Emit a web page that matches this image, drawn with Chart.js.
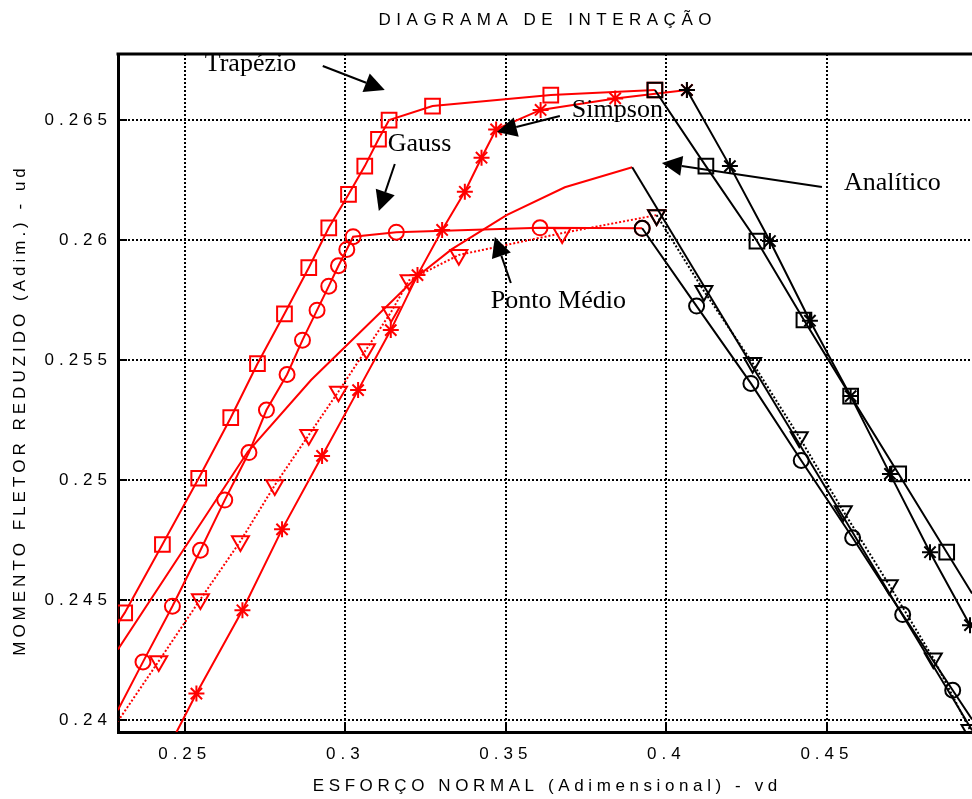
<!DOCTYPE html>
<html lang="pt">
<head>
<meta charset="utf-8">
<title>Diagrama de interação</title>
<script src="https://cdn.jsdelivr.net/npm/chart.js"></script>
<style>
  html, body { margin: 0; padding: 0; background: #fff; overflow: hidden; }
  #wrap { width: 972px; height: 799px; position: relative; }
  canvas { display: block; }
</style>
</head>
<body>
<div id="wrap"><canvas id="chart"></canvas></div>
<script>
// limites dos eixos (o lado direito está cortado)
const X_MIN = 0.22922, X_MAX = 0.49517;
const Y_MIN = 0.23951, Y_MAX = 0.26775;
const xTicks = [0.25, 0.3, 0.35, 0.4, 0.45];
const yTicks = [0.24, 0.245, 0.25, 0.255, 0.26, 0.265];

// Trapézio (quadrados): ramo vermelho e ramo preto
const trapN  = [0.2292, 0.2313, 0.24305, 0.25436, 0.26433, 0.27265, 0.28106, 0.28863, 0.29486, 0.3010, 0.30607, 0.31034, 0.31364, 0.32717, 0.3640, 0.39642];
const trapM  = [0.24404, 0.24447, 0.24732, 0.25008, 0.2526, 0.25485, 0.25693, 0.25885, 0.26051, 0.2619, 0.26308, 0.2642, 0.265, 0.26558, 0.26604, 0.26625];
const trapN2 = [0.39642, 0.4123, 0.4282, 0.44283, 0.45738, 0.47234, 0.48729, 0.4952];
const trapM2 = [0.26625, 0.26308, 0.25996, 0.25667, 0.2535, 0.25026, 0.247, 0.24528];

// Simpson (asteriscos)
const simpN  = [0.24741, 0.25364, 0.26797, 0.28031, 0.29277, 0.30399, 0.31417, 0.32249, 0.33016, 0.33723, 0.34243, 0.34698, 0.36083, 0.38405, 0.40639];
const simpM  = [0.2395, 0.24111, 0.24458, 0.24795, 0.25101, 0.25375, 0.25625, 0.25854, 0.26042, 0.26201, 0.26343, 0.26461, 0.26542, 0.2659, 0.26625];
const simpN2 = [0.40639, 0.41978, 0.43224, 0.4447, 0.45738, 0.46963, 0.48209, 0.49455];
const simpM2 = [0.26625, 0.26308, 0.25996, 0.25664, 0.2535, 0.25026, 0.247, 0.24396];

// Gauss (círculos)
const gaussN  = [0.2292, 0.2370, 0.24617, 0.25489, 0.26246, 0.27, 0.27545, 0.28187, 0.28667, 0.29121, 0.29486, 0.29788, 0.30047, 0.30243, 0.31589, 0.36064, 0.39246];
const gaussM  = [0.24042, 0.24243, 0.24475, 0.24708, 0.24917, 0.25115, 0.25292, 0.2544, 0.25583, 0.25708, 0.25808, 0.25893, 0.25961, 0.26014, 0.26033, 0.26051, 0.26049];
const gaussN2 = [0.39246, 0.4094, 0.42632, 0.44199, 0.458, 0.47358, 0.48916, 0.4952];
const gaussM2 = [0.26049, 0.25725, 0.25403, 0.25082, 0.2476, 0.2444, 0.24125, 0.24003];

// Ponto Médio (triângulos, pontilhado)
const pmN  = [0.2292, 0.2419, 0.25489, 0.26735, 0.27804, 0.28863, 0.29788, 0.3066, 0.31427, 0.31988, 0.33536, 0.36754, 0.39695];
const pmM  = [0.23996, 0.24246, 0.24504, 0.24746, 0.24979, 0.25188, 0.25369, 0.25546, 0.257, 0.25833, 0.25938, 0.26029, 0.26104];
const pmN2 = [0.39695, 0.41168, 0.42685, 0.44137, 0.45508, 0.4694, 0.48312, 0.49455];
const pmM2 = [0.26104, 0.25788, 0.25488, 0.25179, 0.24871, 0.24563, 0.24258, 0.2396];

// Analítico (linha simples)
const anaN  = [0.2292, 0.26963, 0.28935, 0.32259, 0.33308, 0.35022, 0.36838, 0.38935];
const anaM  = [0.24295, 0.25118, 0.25417, 0.2585, 0.25961, 0.26104, 0.2622, 0.26303];
const anaN2 = [0.38935, 0.4952];
const anaM2 = [0.26303, 0.23958];

// rótulos com seta: texto, posição do texto, início e ponta da seta
const notas = [
  { txt: 'Trapézio',    tx: 0.25623, ty: 0.26705, x1: 0.29299, y1: 0.26725, x2: 0.3123,  y2: 0.26625 },
  { txt: 'Gauss',       tx: 0.31324, ty: 0.26372, x1: 0.31542, y1: 0.26317, x2: 0.31044, y2: 0.26121 },
  { txt: 'Simpson',     tx: 0.37056, ty: 0.26511, x1: 0.36682, y1: 0.26517, x2: 0.3472,  y2: 0.2645 },
  { txt: 'Analítico',   tx: 0.4553,  ty: 0.26208, x1: 0.44844, y1: 0.26221, x2: 0.3986,  y2: 0.26321 },
  { txt: 'Ponto Médio', tx: 0.34533, ty: 0.25715, x1: 0.35156, y1: 0.25821, x2: 0.34657, y2: 0.26013 }
];

const RED = '#ff0000', BLACK = '#000000';
const SANS = '"Liberation Sans", Arial, sans-serif';

function pts(xs, ys) { return xs.map((x, i) => ({ x: x, y: ys[i] })); }
const naBorda = v => v.x <= X_MIN || v.x >= X_MAX || v.y <= Y_MIN;

function serie(xs, ys, cor, estilo, raio, tracejado) {
  return {
    data: pts(xs, ys),
    showLine: true,
    borderColor: cor,
    borderWidth: 2,
    borderDash: tracejado ? [2, 2] : [],
    tension: 0,
    pointStyle: estilo || 'circle',
    pointRotation: estilo === 'triangle' ? 180 : 0,
    pointRadius: ctx => (raio && ctx.raw && !naBorda(ctx.raw)) ? raio : 0,
    pointBorderColor: cor,
    pointBackgroundColor: 'rgba(0,0,0,0)',
    pointBorderWidth: 2,
    order: cor === BLACK ? 0 : 1
  };
}

const datasets = [
  serie(anaN, anaM, RED, false, 0),
  serie(pmN, pmM, RED, 'triangle', 9.8, true),
  serie(gaussN, gaussM, RED, 'circle', 7.5),
  serie(simpN, simpM, RED, 'star', 8),
  serie(trapN, trapM, RED, 'rect', 10.4),
  serie(anaN2, anaM2, BLACK, false, 0),
  serie(pmN2, pmM2, BLACK, 'triangle', 9.8, true),
  serie(gaussN2, gaussM2, BLACK, 'circle', 7.5),
  serie(simpN2, simpM2, BLACK, 'star', 8),
  serie(trapN2, trapM2, BLACK, 'rect', 10.4)
];

function textoEspacado(ctx, txt, x, y, esp) {
  // desenha centrado com espaçamento entre letras
  let w = 0;
  const larg = [];
  for (const ch of txt) { const l = ctx.measureText(ch).width; larg.push(l); w += l; }
  w += esp * (larg.length - 1);
  let cx = x - w / 2;
  let i = 0;
  ctx.textAlign = 'left';
  for (const ch of txt) { ctx.fillText(ch, cx, y); cx += larg[i++] + esp; }
}

const moldura = {
  id: 'moldura',
  beforeDraw(chart) {
    chart.ctx.letterSpacing = '5px';
  },
  afterDraw(chart) {
    const { ctx, chartArea: a, scales: { x, y } } = chart;
    ctx.save();
    ctx.letterSpacing = '0px';
    ctx.strokeStyle = BLACK;
    ctx.fillStyle = BLACK;
    // borda superior
    ctx.lineWidth = 3;
    ctx.beginPath();
    ctx.moveTo(a.left - 1.5, a.top);
    ctx.lineTo(a.right, a.top);
    ctx.stroke();
    // marcas internas
    ctx.lineWidth = 2;
    ctx.beginPath();
    yTicks.forEach(v => { const py = Math.round(y.getPixelForValue(v)); ctx.moveTo(a.left, py); ctx.lineTo(a.left + 9, py); });
    xTicks.forEach(v => { const px = Math.round(x.getPixelForValue(v)); ctx.moveTo(px, a.bottom); ctx.lineTo(px, a.bottom - 10); });
    ctx.stroke();

    // títulos
    ctx.font = '17px ' + SANS;
    ctx.textBaseline = 'middle';
    const cx = (a.left + a.right) / 2;
    textoEspacado(ctx, 'DIAGRAMA DE INTERAÇÃO', cx, 20, 5.5);
    textoEspacado(ctx, 'ESFORÇO NORMAL (Adimensional) - vd', cx, 786, 4.6);
    ctx.save();
    ctx.translate(20, (a.top + a.bottom) / 2 + 19);
    ctx.rotate(-Math.PI / 2);
    textoEspacado(ctx, 'MOMENTO FLETOR REDUZIDO (Adim.) - ud', 0, 0, 4);
    ctx.restore();

    // setas e rótulos dos métodos
    ctx.font = '26px "Liberation Serif", "Times New Roman", serif';
    ctx.textAlign = 'left';
    ctx.textBaseline = 'alphabetic';
    notas.forEach(n => {
      ctx.fillText(n.txt, x.getPixelForValue(n.tx), y.getPixelForValue(n.ty));
      const x1 = x.getPixelForValue(n.x1), y1 = y.getPixelForValue(n.y1);
      const x2 = x.getPixelForValue(n.x2), y2 = y.getPixelForValue(n.y2);
      const ang = Math.atan2(y2 - y1, x2 - x1);
      const L = 20, W = 10;
      const bx = x2 - L * Math.cos(ang), by = y2 - L * Math.sin(ang);
      ctx.lineWidth = 2;
      ctx.beginPath();
      ctx.moveTo(x1, y1);
      ctx.lineTo(bx, by);
      ctx.stroke();
      ctx.beginPath();
      ctx.moveTo(x2, y2);
      ctx.lineTo(bx + W * Math.sin(ang), by - W * Math.cos(ang));
      ctx.lineTo(bx - W * Math.sin(ang), by + W * Math.cos(ang));
      ctx.closePath();
      ctx.fill();
    });
    ctx.restore();
  }
};

new Chart(document.getElementById('chart'), {
  type: 'scatter',
  data: { datasets: datasets },
  options: {
    animation: false,
    responsive: true,
    maintainAspectRatio: false,
    layout: { autoPadding: false, padding: { top: 54, left: 0, right: 0, bottom: 0 } },
    plugins: { legend: { display: false }, title: { display: false }, tooltip: { enabled: false } },
    scales: {
      x: {
        type: 'linear', min: X_MIN, max: X_MAX,
        afterBuildTicks: s => { s.ticks = xTicks.map(v => ({ value: v })); },
        afterFit: s => { s.height = 67; s.paddingLeft = 0; s.paddingRight = 0; },
        ticks: { callback: v => String(v), color: BLACK, font: { family: SANS, size: 17 }, padding: 12, maxRotation: 0, autoSkip: false },
        grid: { color: BLACK, lineWidth: 2, drawTicks: false },
        border: { color: BLACK, width: 3, dash: [2, 2] }
      },
      y: {
        type: 'linear', min: Y_MIN, max: Y_MAX,
        afterBuildTicks: s => { s.ticks = yTicks.map(v => ({ value: v })); },
        afterFit: s => { s.width = 118; s.paddingTop = 0; s.paddingBottom = 0; },
        ticks: { callback: v => String(v), color: BLACK, font: { family: SANS, size: 17 }, padding: 6, autoSkip: false },
        grid: { color: BLACK, lineWidth: 2, drawTicks: false },
        border: { color: BLACK, width: 3, dash: [2, 2] }
      }
    }
  },
  plugins: [moldura]
});
</script>
</body>
</html>
